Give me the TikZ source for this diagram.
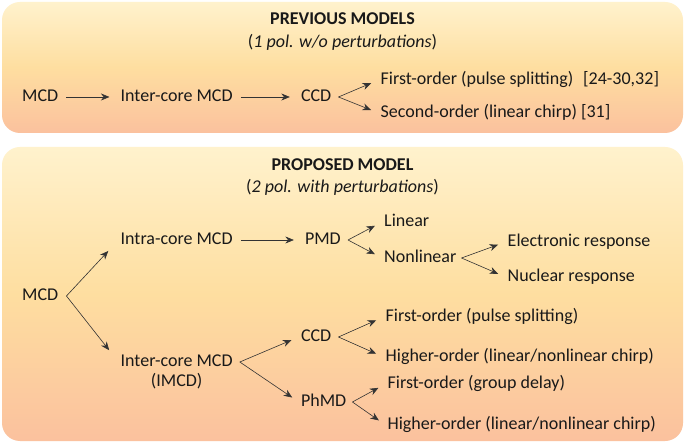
\documentclass[tikz,border=0pt]{standalone}
\usepackage{fontspec}
\setmainfont{Carlito}
\usetikzlibrary{arrows.meta,positioning}

\definecolor{boxTop}{RGB}{255,242,205}
\definecolor{boxMid}{RGB}{254,222,160}
\definecolor{boxBot}{RGB}{251,193,158}

\begin{document}
\begin{tikzpicture}
[ x=1pt, y=-1pt,
		every node/.style={font=\fontsize{18}{21.5}\selectfont, text=black!90},
		item/.style={inner sep=2pt, text height=12.5pt, text depth=3.5pt},
		heading/.style={inner sep=0pt, font=\fontsize{18}{21.5}\selectfont\bfseries},
		subheading/.style={inner sep=0pt},
		panel/.style={rounded corners=18pt, top color=boxTop, bottom color=boxBot, middle color=boxMid},
		arrowOut/.style={-{Stealth[length=8.5pt,width=7pt]}, line width=0.6pt, draw=black!80, shorten <=6pt, shorten >=9pt},
		arrowFork/.style={-{Stealth[length=8.5pt,width=7pt]}, line width=0.6pt, draw=black!80, shorten >=8pt}]

	\fill[white] (0,0) rectangle (685,443);
	\useasboundingbox (0,0) rectangle (685,443);
	\shade[panel] (2,2) rectangle (683,133);
	\shade[panel] (2,147) rectangle (683,441);

	% previous models
	\node[heading] (prevTitle) at (342.5,18.5) {PREVIOUS MODELS};
	\node[subheading] (prevSub) at (342.5,42) {(\textit{1 pol. w/o perturbations})};

	\node[item, anchor=west] (mcdA) at (20,97) {MCD};
	\node[item] (icA) [right=58pt of mcdA] {Inter-core MCD};
	\node[item] (ccdA) [right=64pt of icA] {CCD};
	\node[item] (foA) [right=45pt of ccdA, yshift=17pt] {First-order (pulse splitting)\hspace{10pt}[24-30,32]};
	\node[item] (soA) [right=45pt of ccdA, yshift=-16pt] {Second-order (linear chirp) [31]};

	\draw[arrowOut] (mcdA) -- (icA);
	\draw[arrowOut] (icA) -- (ccdA);
	\draw[arrowFork] ([xshift=5pt]ccdA.east) -- (foA.west);
	\draw[arrowFork] ([xshift=5pt]ccdA.east) -- (soA.west);

	% proposed model
	\node[heading] (propTitle) at (342.5,165) {PROPOSED MODEL};
	\node[subheading] (propSub) at (342.5,187.5) {(\textit{2 pol. with perturbations})};

	\node[item, anchor=west] (mcdB) at (20,296) {MCD};
	\node[item] (intraB) [right=58pt of mcdB, yshift=56pt] {Intra-core MCD};
	\node[item, label={[item, label distance=0pt]below:(IMCD)}] (icB) [right=58pt of mcdB, yshift=-66pt] {Inter-core MCD};
	\node[item] (pmdB) [right=68pt of intraB] {PMD};
	\node[item] (linB) [right=39pt of pmdB, yshift=18pt] {Linear};
	\node[item] (nonB) [right=39pt of pmdB, yshift=-18pt] {Nonlinear};
	\node[item] (elB) [right=47pt of nonB, yshift=16pt] {Electronic response};
	\node[item] (nucB) [right=47pt of nonB, yshift=-19pt] {Nuclear response};
	\node[item] (ccdB) [right=64pt of icB, yshift=25pt] {CCD};
	\node[item] (phB) [right=64pt of icB, yshift=-40pt] {PhMD};
	\node[item] (foB) [right=50pt of ccdB, yshift=20pt] {First-order (pulse splitting)};
	\node[item] (hoB) [right=50pt of ccdB, yshift=-20pt] {Higher-order (linear/nonlinear chirp)};
	\node[item] (gdB) [right=37pt of phB, yshift=18pt] {First-order (group delay)};
	\node[item] (hoC) [right=37pt of phB, yshift=-23pt] {Higher-order (linear/nonlinear chirp)};

	\draw[arrowFork, shorten >=15pt] ([xshift=6pt]mcdB.east) -- (intraB.west);
	\draw[arrowFork, shorten >=15pt] ([xshift=6pt]mcdB.east) -- (icB.west);
	\draw[arrowOut] (intraB) -- (pmdB);
	\draw[arrowFork] ([xshift=5pt]pmdB.east) -- (linB.west);
	\draw[arrowFork] ([xshift=5pt]pmdB.east) -- (nonB.west);
	\draw[arrowFork] ([xshift=3pt]nonB.east) -- (elB.west);
	\draw[arrowFork] ([xshift=3pt]nonB.east) -- (nucB.west);
	\draw[arrowFork] ([xshift=5pt]icB.east) -- (ccdB.west);
	\draw[arrowFork] ([xshift=5pt]icB.east) -- (phB.west);
	\draw[arrowFork] ([xshift=5pt]ccdB.east) -- (foB.west);
	\draw[arrowFork] ([xshift=5pt]ccdB.east) -- (hoB.west);
	\draw[arrowFork] ([xshift=4pt]phB.east) -- (gdB.west);
	\draw[arrowFork] ([xshift=4pt]phB.east) -- (hoC.west);
\end{tikzpicture}
\end{document}
